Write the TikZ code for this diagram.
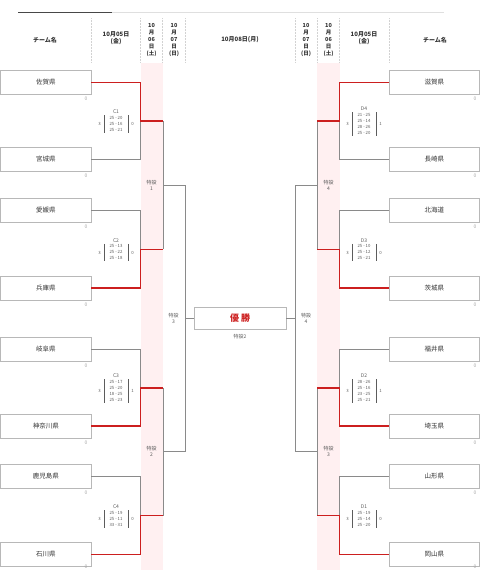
\documentclass[tikz,border=0pt]{standalone}
\usepackage{fontspec}
\setmainfont{Noto Sans CJK JP}
\begin{document}
\begin{tikzpicture}[x=1pt,y=-1pt,
  teambox/.style={draw=boxgray,line width=0.6pt,minimum width=90.5pt,minimum height=24pt,inner sep=0pt,font=\fontsize{6.5}{7}\selectfont,text=txt},
  zero/.style={font=\fontsize{5}{6}\selectfont,text=gray!70,inner sep=0pt},
  grayline/.style={draw=lngray,line width=0.8pt},
  redline/.style={draw=lnred,line width=1.5pt},
  mtitle/.style={font=\fontsize{5}{6}\selectfont,text=txt!80,inner sep=0pt},
  mset/.style={font=\fontsize{4.3}{5}\selectfont,text=txt!80,inner sep=0pt},
  bar/.style={draw=txt!80,line width=0.7pt},
  venue/.style={font=\fontsize{5}{6}\selectfont,text=txt!80,align=center,inner sep=0pt},
  hdr/.style={font=\bfseries\fontsize{6}{7}\selectfont,text=txt,align=center,inner sep=0pt},
  vhdr/.style={font=\bfseries\fontsize{5.5}{7}\selectfont,text=txt,align=center,inner sep=0pt},
  sep/.style={draw=gray!35,densely dotted,line width=0.5pt}]
\definecolor{boxgray}{HTML}{B8B8B8}
\definecolor{txt}{HTML}{333333}
\definecolor{lngray}{HTML}{8A8A8A}
\definecolor{lnred}{HTML}{CC1F1F}
\definecolor{pinkcol}{HTML}{FFF0F1}
\useasboundingbox (0,0) rectangle (480,570);
% pink columns
\fill[pinkcol] (140.5,63) rectangle (163,570);
\fill[pinkcol] (317,63) rectangle (339.5,570);
% top rule
\draw[gray!25,line width=0.6pt] (18,12) -- (444,12);
\draw[txt!90,line width=1pt] (18,12) -- (112,12);
% header separators
\foreach \xx [count=\i] in {91,140.5,162.5,185,295,317,339.5,389}
  \draw[sep] (\xx,18) -- (\xx,62);
% header texts
\node[hdr] (h1) at (45,40) {チーム名};
\node[hdr] (h2) at (116,38) {10月05日\\(金)};
\node[vhdr] (h3) at (151.5,40) {10\\月\\06\\日\\(土)};
\node[vhdr] (h4) at (174,40) {10\\月\\07\\日\\(日)};
\node[hdr] (h5) at (240,40) {10月08日(月)};
\node[vhdr] (h6) at (306,40) {10\\月\\07\\日\\(日)};
\node[vhdr] (h7) at (328.5,40) {10\\月\\06\\日\\(土)};
\node[hdr] (h8) at (364,38) {10月05日\\(金)};
\node[hdr] (h9) at (435,40) {チーム名};
% teams
\foreach \nm/\yy/\zy [count=\i] in {佐賀県/82.5/99,宮城県/159/175.5,愛媛県/210.5/227,兵庫県/288/304.5,岐阜県/349.5/366,神奈川県/426/442.5,鹿児島県/476.5/493,石川県/554.5/566.5}{
  \node[teambox] (l\i) at (45.75,\yy) {\nm};
  \node[zero] (lz\i) at (86,\zy) {0};
}
\foreach \nm/\yy/\zy [count=\i] in {滋賀県/82.5/99,長崎県/159/175.5,北海道/210.5/227,茨城県/288/304.5,福井県/349.5/366,埼玉県/426/442.5,山形県/476.5/493,岡山県/554.5/566.5}{
  \node[teambox] (r\i) at (434.25,\yy) {\nm};
  \node[zero] (rz\i) at (475,\zy) {0};
}
% joints left
\coordinate (c1) at (140.5,120.75); \coordinate (c1w) at (163,120.75);
\coordinate (c2) at (140.5,249.25); \coordinate (c2w) at (163,249.25);
\coordinate (c3) at (140.5,387.75); \coordinate (c3w) at (163,387.75);
\coordinate (c4) at (140.5,515.5); \coordinate (c4w) at (163,515.5);
\coordinate (s1) at (163,185); \coordinate (s1w) at (185,185);
\coordinate (s2) at (163,451.6); \coordinate (s2w) at (185,451.6);
\coordinate (f1) at (185,318.3);
% joints right
\coordinate (d4) at (339.5,120.75); \coordinate (d4w) at (317,120.75);
\coordinate (d3) at (339.5,249.25); \coordinate (d3w) at (317,249.25);
\coordinate (d2) at (339.5,387.75); \coordinate (d2w) at (317,387.75);
\coordinate (d1) at (339.5,515.5); \coordinate (d1w) at (317,515.5);
\coordinate (t4) at (317,185); \coordinate (t4w) at (295.5,185);
\coordinate (t3) at (317,451.6); \coordinate (t3w) at (295.5,451.6);
\coordinate (f2) at (295.5,318.3);
% winner box
\node[draw=boxgray,line width=0.6pt,minimum width=92pt,minimum height=22pt,inner sep=0pt,
      font=\bfseries\fontsize{9}{10}\selectfont,text=lnred] (win) at (240,318.3) {優\hspace{2pt}勝};
\node[venue] (v2) at (240,337) {特設2};
% gray lines left
\draw[grayline] (l2.east) -| (c1);
\draw[grayline] (l3.east) -| (c2);
\draw[grayline] (l5.east) -| (c3);
\draw[grayline] (l7.east) -| (c4);
\draw[grayline] (c1w) -- (c2w);
\draw[grayline] (c3w) -- (c4w);
\draw[grayline] (s1) -- (s1w);
\draw[grayline] (s2) -- (s2w);
\draw[grayline] (s1w) -- (s2w);
\draw[grayline] (f1) -- (win.west);
% gray lines right
\draw[grayline] (r2.west) -| (d4);
\draw[grayline] (r3.west) -| (d3);
\draw[grayline] (r5.west) -| (d2);
\draw[grayline] (r7.west) -| (d1);
\draw[grayline] (d4w) -- (d3w);
\draw[grayline] (d2w) -- (d1w);
\draw[grayline] (t4) -- (t4w);
\draw[grayline] (t3) -- (t3w);
\draw[grayline] (t4w) -- (t3w);
\draw[grayline] (f2) -- (win.east);
% red winner lines
\draw[redline] (l1.east) -| (c1) -- (c1w);
\draw[redline] (l4.east) -| (c2) -- (c2w);
\draw[redline] (l6.east) -| (c3) -- (c3w);
\draw[redline] (l8.east) -| (c4) -- (c4w);
\draw[redline] (r1.west) -| (d4) -- (d4w);
\draw[redline] (r4.west) -| (d3) -- (d3w);
\draw[redline] (r6.west) -| (d2) -- (d2w);
\draw[redline] (r8.west) -| (d1) -- (d1w);
% venue labels
\node[venue] (v1) at (151.5,185) {特設\\1};
\node[venue] (v2b) at (151.5,451.6) {特設\\2};
\node[venue] (v3) at (173.5,318.3) {特設\\3};
\node[venue] (v4) at (306,318.3) {特設\\4};
\node[venue] (v4b) at (328.5,185) {特設\\4};
\node[venue] (v3b) at (328.5,451.6) {特設\\3};
% match blocks: name, x, joint y, n sets, left, right, sets
\newcommand\mblock[7]{%
  \node[mtitle] (#1) at (#2,#3-3*#4) {#1};
  \foreach \s [count=\k] in {#7}{\node[mset] (#1s\k) at (#2,#3-3*#4+6*\k) {\s};}
  \draw[bar] (#2-12,#3-3*#4+3.5) -- (#2-12,#3+3*#4+3);
  \draw[bar] (#2+12,#3-3*#4+3.5) -- (#2+12,#3+3*#4+3);
  \node[mset] (#1l) at (#2-16.5,#3+3.25) {#5};
  \node[mset] (#1r) at (#2+16.5,#3+3.25) {#6};
}
\mblock{C1}{116}{120.75}{3}{3}{0}{25 - 20,25 - 16,25 - 21}
\mblock{C2}{116}{249.25}{3}{3}{0}{25 - 13,25 - 22,25 - 18}
\mblock{C3}{116}{387.75}{4}{3}{1}{25 - 17,25 - 20,18 - 25,25 - 23}
\mblock{C4}{116}{515.5}{3}{3}{0}{25 - 19,25 - 11,33 - 31}
\mblock{D4}{364}{120.75}{4}{3}{1}{21 - 25,25 - 14,28 - 26,25 - 20}
\mblock{D3}{364}{249.25}{3}{3}{0}{25 - 10,25 - 12,25 - 21}
\mblock{D2}{364}{387.75}{4}{3}{1}{28 - 26,25 - 16,23 - 25,25 - 21}
\mblock{D1}{364}{515.5}{3}{3}{0}{25 - 19,25 - 14,25 - 20}
\end{tikzpicture}
\end{document}
